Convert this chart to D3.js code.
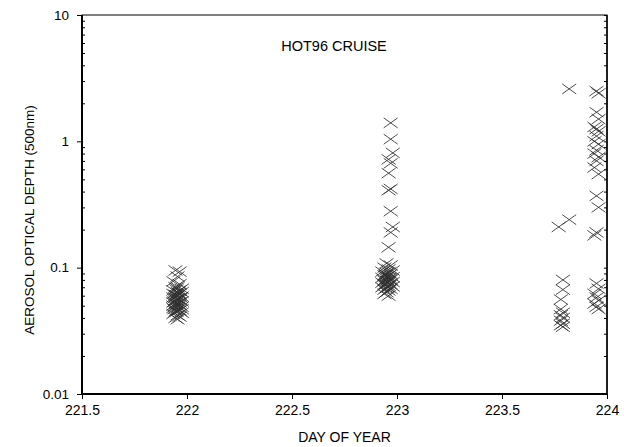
<!DOCTYPE html>
<html>
<head>
<meta charset="utf-8">
<script src="https://cdn.jsdelivr.net/npm/d3@7"></script>
<style>
  body { margin: 0; background: #fff; }
  text { font-family: "Liberation Sans", Arial, sans-serif; fill: #000; }
</style>
</head>
<body>
<div id="chart"></div>
<script>
var title = 'HOT96 CRUISE';
var xLabel = 'DAY OF YEAR';
var yLabel = 'AEROSOL OPTICAL DEPTH (500nm)';
var xTicks = [221.5, 222, 222.5, 223, 223.5, 224];
var yTicks = [0.01, 0.1, 1, 10];
var yTickLabels = ['0.01', '0.1', '1', '10'];

// [day, aod]
var day222 = [
  [221.945, 0.095], [221.965, 0.093], [221.955, 0.085], [221.935, 0.078], [221.965, 0.074],
  [221.945, 0.070], [221.975, 0.068], [221.935, 0.066], [221.955, 0.064], [221.965, 0.062],
  [221.945, 0.061], [221.975, 0.059], [221.935, 0.058], [221.955, 0.057], [221.965, 0.056],
  [221.945, 0.055], [221.975, 0.054], [221.935, 0.053], [221.955, 0.052], [221.965, 0.051],
  [221.945, 0.050], [221.975, 0.049], [221.935, 0.048], [221.955, 0.047], [221.965, 0.046],
  [221.945, 0.045], [221.975, 0.044], [221.935, 0.043], [221.955, 0.042], [221.965, 0.041],
  [221.945, 0.040], [221.955, 0.039], [221.935, 0.062], [221.975, 0.064], [221.945, 0.058],
  [221.965, 0.053], [221.955, 0.060], [221.935, 0.050], [221.975, 0.047], [221.945, 0.052],
  [221.965, 0.066], [221.955, 0.070], [221.950, 0.056], [221.960, 0.049], [221.940, 0.054],
  [221.970, 0.058], [221.950, 0.045], [221.960, 0.063], [221.940, 0.047], [221.950, 0.067]
];

var day223 = [
  [222.97, 1.40], [222.97, 1.04], [222.98, 0.81], [222.96, 0.72], [222.97, 0.67],
  [222.96, 0.56], [222.97, 0.42], [222.96, 0.41], [222.97, 0.28], [222.98, 0.21],
  [222.97, 0.19], [222.96, 0.145], [222.95, 0.108], [222.97, 0.104], [222.94, 0.100],
  [222.96, 0.097], [222.98, 0.095], [222.93, 0.093], [222.95, 0.091], [222.97, 0.089],
  [222.94, 0.087], [222.96, 0.086], [222.98, 0.084], [222.93, 0.083], [222.95, 0.082],
  [222.97, 0.080], [222.94, 0.079], [222.96, 0.078], [222.98, 0.077], [222.93, 0.076],
  [222.95, 0.075], [222.97, 0.074], [222.94, 0.073], [222.96, 0.072], [222.98, 0.071],
  [222.93, 0.070], [222.95, 0.069], [222.97, 0.068], [222.94, 0.067], [222.96, 0.066],
  [222.95, 0.064], [222.94, 0.062], [222.96, 0.060], [222.95, 0.085], [222.96, 0.092],
  [222.955, 0.079], [222.945, 0.074], [222.965, 0.083], [222.955, 0.070], [222.945, 0.088]
];

var day2238 = [
  [223.82, 2.6], [223.82, 0.24], [223.77, 0.21], [223.79, 0.080], [223.79, 0.067],
  [223.78, 0.056], [223.78, 0.047], [223.79, 0.044], [223.78, 0.042], [223.79, 0.040],
  [223.78, 0.038], [223.79, 0.036], [223.78, 0.035], [223.79, 0.034]
];

var day224 = [
  [223.95, 2.5], [223.96, 2.4], [223.95, 1.7], [223.96, 1.5], [223.94, 1.3],
  [223.95, 1.25], [223.96, 1.2], [223.95, 1.1], [223.94, 1.0], [223.96, 0.95],
  [223.95, 0.85], [223.94, 0.80], [223.96, 0.75], [223.95, 0.70], [223.94, 0.62],
  [223.96, 0.55], [223.95, 0.37], [223.96, 0.30], [223.95, 0.19], [223.94, 0.18],
  [223.95, 0.075], [223.96, 0.068], [223.94, 0.062], [223.95, 0.058], [223.96, 0.055],
  [223.94, 0.052], [223.95, 0.049], [223.96, 0.047]
];

var svg = d3.select('#chart').append('svg')
  .attr('width', 624)
  .attr('height', 447);

var margin = { top: 15, right: 17, bottom: 53, left: 82 };
var width = 624 - margin.left - margin.right;
var height = 447 - margin.top - margin.bottom;

var g = svg.append('g')
  .attr('transform', 'translate(' + margin.left + ',' + margin.top + ')');

var x = d3.scaleLinear().domain([221.5, 224]).range([0, width]);
var y = d3.scaleLog().domain([0.01, 10]).range([height, 0]);

// minor ticks for the log axis
var minor = [];
[0.01, 0.1, 1].forEach(function(d) {
  for (var k = 2; k <= 9; k++) minor.push(d * k);
});

var data = day222.concat(day223, day2238, day224);

g.selectAll('.pt')
  .data(data)
  .enter().append('path')
    .attr('class', 'pt')
    .attr('transform', function(d) { return 'translate(' + x(d[0]) + ',' + y(d[1]) + ')'; })
    .attr('d', 'M-7,-5L7,5M-7,5L7,-5')
    .attr('fill', 'none')
    .attr('stroke', '#2e2e2e')
    .attr('stroke-width', 0.85);

// frame
g.append('rect')
  .attr('width', width)
  .attr('height', height)
  .attr('fill', 'none')
  .attr('stroke', '#000')
  .attr('stroke-width', 1);
g.append('line').attr('x1', 0).attr('x2', 0).attr('y1', 0).attr('y2', height)
  .attr('stroke', '#000').attr('stroke-width', 2);
g.append('line').attr('x1', 0).attr('x2', width).attr('y1', height).attr('y2', height)
  .attr('stroke', '#000').attr('stroke-width', 2);
g.append('line').attr('x1', width).attr('x2', width).attr('y1', 0).attr('y2', height)
  .attr('stroke', '#000').attr('stroke-width', 1.5);

var yAxis = g.append('g')
  .call(d3.axisLeft(y).tickValues(yTicks).tickSize(5).tickPadding(8)
    .tickFormat(function(d, i) { return yTickLabels[i]; }));
yAxis.select('.domain').remove();
yAxis.selectAll('text').style('font-size', '13.5px');

g.append('g')
  .call(d3.axisRight(y).tickValues(minor).tickSize(3).tickFormat(''))
  .select('.domain').remove();
g.append('g')
  .attr('transform', 'translate(' + width + ',0)')
  .call(d3.axisLeft(y).tickValues(minor.concat(yTicks)).tickSize(3).tickFormat(''))
  .select('.domain').remove();

var xAxis = g.append('g')
  .attr('transform', 'translate(0,' + height + ')')
  .call(d3.axisBottom(x).tickValues(xTicks).tickSize(5).tickPadding(6)
    .tickFormat(function(d) { return String(d); }));
xAxis.select('.domain').remove();
xAxis.selectAll('text').style('font-size', '14px');

svg.append('text')
  .attr('x', margin.left + width / 2)
  .attr('y', 442)
  .attr('text-anchor', 'middle')
  .style('font-size', '14px')
  .text(xLabel);

svg.append('text')
  .attr('transform', 'translate(34,220) rotate(-90)')
  .attr('text-anchor', 'middle')
  .style('font-size', '13.5px')
  .text(yLabel);

svg.append('text')
  .attr('x', 334)
  .attr('y', 51)
  .attr('text-anchor', 'middle')
  .style('font-size', '14.5px')
  .text(title);
</script>
</body>
</html>
